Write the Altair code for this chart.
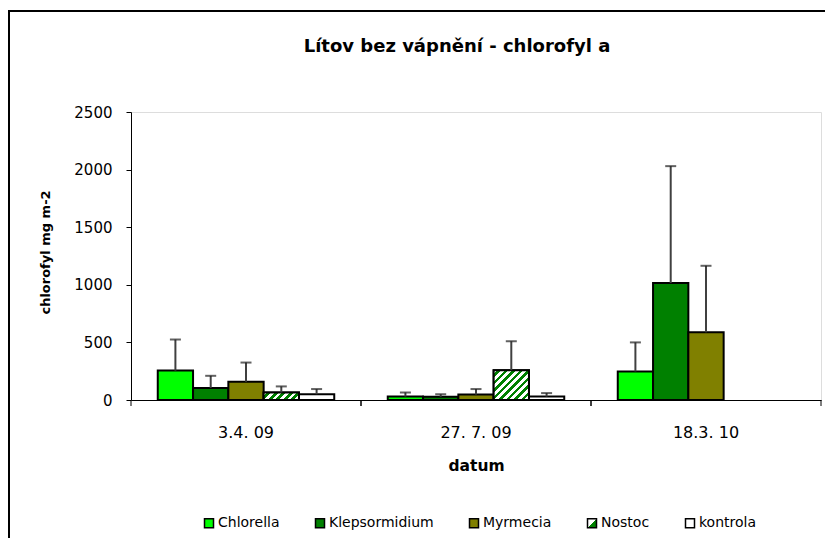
import altair as alt
import pandas as pd

# ---- data ----
dates = ["3.4. 09", "27. 7. 09", "18.3. 10"]
series = ["Chlorella", "Klepsormidium", "Myrmecia", "Nostoc", "kontrola"]

chlorella_mean = [255, 30, 248]
chlorella_sd = [270, 35, 252]
klepsormidium_mean = [105, 28, 1015]
klepsormidium_sd = [105, 22, 1015]
myrmecia_mean = [158, 48, 588]
myrmecia_sd = [167, 47, 577]
nostoc_mean = [65, 258]
nostoc_sd = [53, 252]
kontrola_mean = [50, 30]
kontrola_sd = [45, 30]

colors = ["#00ff00", "#008000", "#808000", "#008000", "#ffffff"]

rows = []
for name, means, sds in [
    ("Chlorella", chlorella_mean, chlorella_sd),
    ("Klepsormidium", klepsormidium_mean, klepsormidium_sd),
    ("Myrmecia", myrmecia_mean, myrmecia_sd),
    ("Nostoc", nostoc_mean, nostoc_sd),
    ("kontrola", kontrola_mean, kontrola_sd),
]:
    for d, m, s in zip(dates, means, sds):
        rows.append({"date": d, "series": name, "mean": m, "upper": m + s})
df = pd.DataFrame(rows)

W, H = 690, 288
PL, PT, PR, PB = 123, 104, 4, 138
FONT = "DejaVu Sans"

# hatch fill for Nostoc (diagonal stripes, ~constant pixel period)
N = 40
stops = []
for k in range(N):
    a, b, c = k / N, (k + 0.5) / N, (k + 1) / N
    stops += [f"{{offset:{a:.5f},color:'#ffffff'}}", f"{{offset:{b:.5f},color:'#ffffff'}}",
              f"{{offset:{b:.5f},color:'#008000'}}", f"{{offset:{c:.5f},color:'#008000'}}"]
stops_str = "[" + ",".join(stops) + "]"
wexp = "bandwidth('xOffset')"
hexp = "(scale('y',0)-scale('y',datum.mean))"
den = f"({wexp}*{wexp}+{hexp}*{hexp}+0.001)"
hatch_expr = (
    "{gradient:'linear',x1:0,y1:0,"
    f"x2:300*{wexp}/{den},y2:300*{hexp}/{den},stops:{stops_str}}}"
)
legend_hatch = ("{gradient:'linear',x1:0,y1:0,x2:1,y2:1,stops:["
                "{offset:0,color:'#ffffff'},{offset:0.5,color:'#ffffff'},"
                "{offset:0.5,color:'#008000'},{offset:1,color:'#008000'}]}")

color_range = [colors[0], colors[1], colors[2], alt.ExprRef(legend_hatch), colors[4]]

x_enc = alt.X(
    "date:N", sort=dates,
    scale=alt.Scale(domain=dates, paddingInner=0, paddingOuter=0),
    axis=alt.Axis(title="datum", labelAngle=0, ticks=False, tickSize=0,
                  labelPadding=24, titlePadding=18,
                  labelFont=FONT, labelFontSize=16, labelColor="black",
                  titleFont=FONT, titleFontSize=15.5, titleFontWeight="bold",
                  titleColor="black", domainColor="black", domainWidth=1),
)
xoff = alt.XOffset("series:N", sort=series,
                   scale=alt.Scale(domain=series, paddingInner=0, paddingOuter=0.758))
y_enc = alt.Y(
    "mean:Q",
    scale=alt.Scale(domain=[0, 2500], nice=False),
    axis=alt.Axis(title="chlorofyl mg m-2", values=[0, 500, 1000, 1500, 2000, 2500],
                  format="d",
                  grid=False, tickSize=5, tickColor="black", labelPadding=14,
                  labelFont=FONT, labelFontSize=15, labelColor="black",
                  titleFont=FONT, titleFontSize=13, titleFontWeight="bold",
                  titleColor="black", titleAngle=270, titleX=-86, titleY=140,
                  titleAlign="center", titleBaseline="middle",
                  domainColor="black", domainWidth=1),
)

base = alt.Chart(df)

bars = base.mark_bar(stroke="black", strokeWidth=2).encode(
    x=x_enc, xOffset=xoff, y=y_enc,
    color=alt.Color(
        "series:N", sort=series,
        scale=alt.Scale(domain=series, range=color_range),
        legend=alt.Legend(title=None, orient="none", legendX=71, legendY=404,
                          direction="horizontal", columns=5, columnPadding=32,
                          symbolType="square", symbolSize=81,
                          symbolStrokeColor="black", symbolStrokeWidth=1.5,
                          labelFont=FONT, labelFontSize=14, labelColor="black",
                          labelOffset=2, padding=0),
    ),
)

hatch = base.transform_filter(alt.datum.series == "Nostoc").mark_bar(
    stroke="black", strokeWidth=2, fill=alt.ExprRef(hatch_expr)
).encode(x=alt.X("date:N", sort=dates), xOffset=alt.XOffset("series:N", sort=series),
         y=alt.Y("mean:Q"))

err = base.mark_rule(color="#404040", strokeWidth=2).encode(
    x=alt.X("date:N", sort=dates), xOffset=alt.XOffset("series:N", sort=series),
    y=alt.Y("mean:Q"), y2="upper:Q")

caps = base.mark_tick(orient="horizontal", size=11, thickness=2, color="#202020").encode(
    x=alt.X("date:N", sort=dates), xOffset=alt.XOffset("series:N", sort=series),
    y=alt.Y("upper:Q"))

cat_df = pd.DataFrame({"date": dates})
ticks0 = alt.Chart(cat_df).mark_rule(color="black", strokeWidth=1).encode(
    x=alt.X("date:N", sort=dates, bandPosition=0), y=alt.value(H), y2=alt.value(H + 6))
ticks1 = alt.Chart(cat_df).mark_rule(color="black", strokeWidth=1).encode(
    x=alt.X("date:N", sort=dates, bandPosition=1), y=alt.value(H), y2=alt.value(H + 6))

one = alt.Data(values=[{}])
frame_left = alt.Chart(one).mark_rule(color="black", strokeWidth=2).encode(
    x=alt.value(-122), y=alt.value(-101), y2=alt.value(H + PB))
frame_top = alt.Chart(one).mark_rule(color="black", strokeWidth=2).encode(
    x=alt.value(-123), x2=alt.value(W + PR), y=alt.value(-101))

chart = alt.layer(bars, hatch, err, caps, ticks0, ticks1, frame_left, frame_top).properties(
    width=W, height=H,
    title=alt.TitleParams("Lítov bez vápnění - chlorofyl a", font=FONT, fontSize=18,
                          fontWeight="bold", color="black", anchor="middle",
                          frame="group", dx=-19, offset=0, dy=46),
    autosize=alt.AutoSizeParams(type="none"),
    padding={"left": PL, "top": PT, "right": PR, "bottom": PB},
).configure_view(stroke=None).configure(background="white")

chart.save("out.html", embed_options={"renderer": "svg", "actions": False})
